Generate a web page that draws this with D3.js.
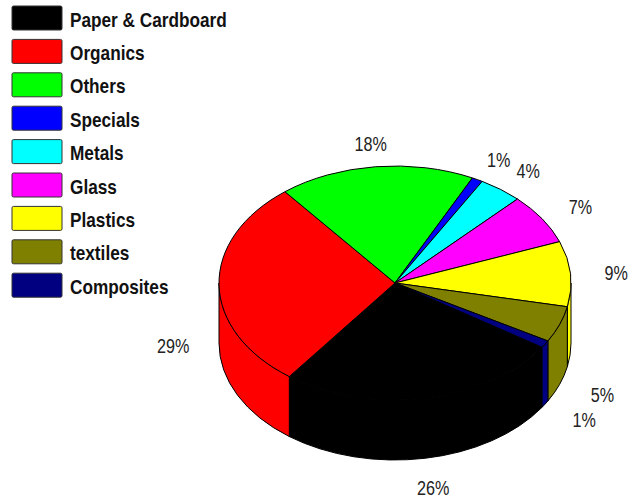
<!DOCTYPE html>
<html>
<head>
<meta charset="utf-8">
<script src="https://cdn.jsdelivr.net/npm/d3@7"></script>
<style>
  html, body { margin: 0; padding: 0; background: #fff; }
  svg { display: block; }
</style>
</head>
<body>
<svg id="chart" width="628" height="504"></svg>
<script>
// Waste composition, share of total (%)
const categories = ["Paper & Cardboard", "Organics", "Others", "Specials", "Metals", "Glass", "Plastics", "textiles", "Composites"];
const shares = [26, 29, 18, 1, 4, 7, 9, 5, 1];
const palette = ["#000000", "#ff0000", "#00ff00", "#0000ff", "#00ffff", "#ff00ff", "#ffff00", "#808000", "#000080"];

const W = 628, H = 504;
const svg = d3.select("#chart");

const color = d3.scaleOrdinal().domain(categories).range(palette);

// Tilted pie geometry: top ellipse centre, radii and wall height
const cx = 395, cy = 283, rx = 176, ry = 117, depth = 60;
const start = 123.3 * Math.PI / 180;

const pie = d3.pie().sort(null).value(d => d.value)
  .startAngle(start).endAngle(start + 2 * Math.PI);
const arcs = pie(categories.map((c, i) => ({ name: c, value: shares[i] })));

// angle measured clockwise from 12 o'clock, projected onto the ellipse
const pt = (a, dy = 0) => [cx + rx * Math.sin(a), cy - ry * Math.cos(a) + dy];

function topPath(a0, a1) {
  const p0 = pt(a0), p1 = pt(a1);
  const large = (a1 - a0) > Math.PI ? 1 : 0;
  return `M${cx},${cy}L${p0[0]},${p0[1]}A${rx},${ry} 0 ${large} 1 ${p1[0]},${p1[1]}Z`;
}

function wallPath(a, b) {
  const p0 = pt(a), p1 = pt(b), q1 = pt(b, depth), q0 = pt(a, depth);
  return `M${p0[0]},${p0[1]}A${rx},${ry} 0 0 1 ${p1[0]},${p1[1]}` +
         `L${q1[0]},${q1[1]}A${rx},${ry} 0 0 0 ${q0[0]},${q0[1]}Z`;
}

// front-facing part of the rim: angles between 90° and 270° (mod 360°)
const TAU = 2 * Math.PI;
const frontRanges = [[Math.PI / 2, 1.5 * Math.PI], [Math.PI / 2 + TAU, 1.5 * Math.PI + TAU]];

const walls = [];
arcs.forEach(d => {
  frontRanges.forEach(([lo, hi]) => {
    const a = Math.max(d.startAngle, lo), b = Math.min(d.endAngle, hi);
    if (b > a + 1e-6) walls.push({ d, a, b });
  });
});

const gPie = svg.append("g");

gPie.selectAll("path.wall").data(walls).join("path")
  .attr("class", "wall")
  .attr("d", w => wallPath(w.a, w.b))
  .attr("fill", w => color(w.d.data.name))
  .attr("stroke", "#000")
  .attr("stroke-width", 1)
  .attr("stroke-linejoin", "round");

gPie.selectAll("path.top").data(arcs).join("path")
  .attr("class", "top")
  .attr("d", d => topPath(d.startAngle, d.endAngle))
  .attr("fill", d => color(d.data.name))
  .attr("stroke", "#000")
  .attr("stroke-width", 1)
  .attr("stroke-linejoin", "round");

// percentage labels around the pie (narrow type); front labels sit below the rim
const fontFamily = "'Liberation Sans', Arial, sans-serif";
gPie.selectAll("text.pct").data(arcs).join("text")
  .attr("class", "pct")
  .attr("transform", d => {
    const m = (d.startAngle + d.endAngle) / 2;
    const front = Math.cos(m) < 0;
    const x = cx + rx * 1.26 * Math.sin(m);
    const base = front ? cy + depth : cy;
    const y = base - ry * (front ? 1.25 : 1.2) * Math.cos(m) + 7.7;
    return `translate(${x},${y}) scale(0.77,1)`;
  })
  .attr("text-anchor", "middle")
  .attr("font-family", fontFamily)
  .attr("font-size", 21)
  .attr("fill", "#222")
  .text(d => `${d.data.value}%`);

// legend
const legend = svg.append("g");
const rowH = 33.4;
const rows = legend.selectAll("g").data(categories).join("g")
  .attr("transform", (d, i) => `translate(12,${6 + i * rowH})`);
rows.append("rect")
  .attr("width", 50).attr("height", 24)
  .attr("rx", 1.5)
  .attr("fill", d => color(d))
  .attr("stroke", "#333")
  .attr("stroke-width", 1);
rows.append("text")
  .attr("transform", "translate(58,20.6) scale(0.82,1)")
  .attr("font-family", fontFamily)
  .attr("font-weight", "bold")
  .attr("font-size", 21)
  .attr("fill", "#111")
  .text(d => d);
</script>
</body>
</html>
